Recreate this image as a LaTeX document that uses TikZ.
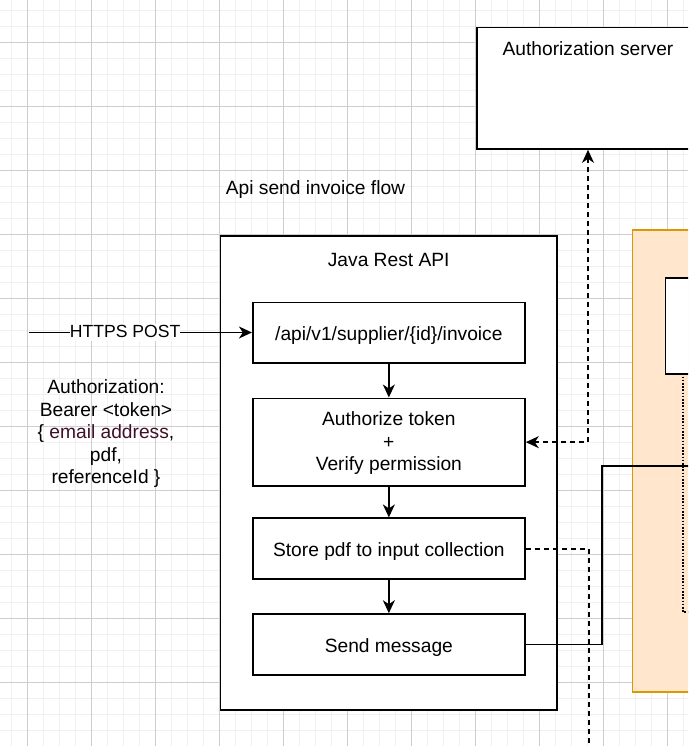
\documentclass[tikz,border=0pt]{standalone}
\usepackage{fontspec}
\setmainfont{Liberation Sans}
\usetikzlibrary{arrows.meta}
\definecolor{gridminor}{RGB}{240,240,240}
\definecolor{gridmajor}{RGB}{205,205,205}
\definecolor{orangefill}{RGB}{255,230,204}
\definecolor{orangeline}{RGB}{215,155,0}
\definecolor{maroon}{RGB}{64,16,40}
\tikzset{
  box/.style={draw=black, line width=1.6pt, fill=white, rectangle, inner sep=0pt, align=center},
  onebox/.style={box, text height=19pt, text depth=4pt},
  txt/.style={inner sep=0pt, align=center},
  flow/.style={line width=1.6pt, -{Stealth[length=13pt,width=12pt,inset=4pt]}},
  dasharrow/.style={line width=1.6pt, dash pattern=on 5pt off 4pt, {Stealth[length=13pt,width=12pt,inset=4pt]}-{Stealth[length=13pt,width=12pt,inset=4pt]}},
  dashline/.style={line width=1.6pt, dash pattern=on 5pt off 4pt},
  dotline/.style={line width=1.6pt, dash pattern=on 1.6pt off 1.6pt},
  plainline/.style={line width=1.6pt}
}
\begin{document}
\begin{tikzpicture}[x=1pt,y=-1pt,font=\fontsize{19.2}{22.5}\selectfont]
\useasboundingbox (0,0) rectangle (688,746);
\clip (0,0) rectangle (688,746);
\fill[white] (0,0) rectangle (688,746);
% grid
\foreach \i in {0,...,42} \draw[gridminor, line width=1.2pt] (11.3+16*\i,0) -- (11.3+16*\i,746);
\foreach \j in {0,...,46} \draw[gridminor, line width=1.2pt] (0,10.3+16*\j) -- (688,10.3+16*\j);
\foreach \i in {0,...,10} \draw[gridmajor, line width=1pt] (27.3+64*\i,0) -- (27.3+64*\i,746);
\foreach \j in {0,...,11} \draw[gridmajor, line width=1pt] (0,42.3+64*\j) -- (688,42.3+64*\j);

% authorization server
\node[box, minimum width=222pt, minimum height=121.7pt] (auth) at (588,88.2) {};
\node[txt] (authT) at (588,49) {Authorization server};

% title
\node[txt] (flowT) at (315.5,189.5) {Api send invoice flow};

% Java Rest API container
\node[box, minimum width=336.7pt, minimum height=474pt] (java) at (388.65,473) {};
\node[txt] (javaT) at (388.7,260) {Java Rest API};

% inner boxes
\node[onebox, minimum width=272.3pt, minimum height=60.4pt] (b1) at (388.85,332.5) {/api/v1/supplier/\{id\}/invoice};
\node[box, minimum width=272.3pt, minimum height=87.7pt] (b2) at (388.85,442.15) {};
\node[txt] (b2T) at (388.85,443.5) {Authorize token\\+\\Verify permission};
\node[onebox, minimum width=272.3pt, minimum height=61pt] (b3) at (388.85,548.7) {Store pdf to input collection};
\node[onebox, minimum width=272.3pt, minimum height=61pt] (b4) at (388.85,644.5) {Send message};

\draw[flow] (b1.south) -- (b2.north);
\draw[flow] (b2.south) -- (b3.north);
\draw[flow] (b3.south) -- (b4.north);

% incoming request
\coordinate (reqStart) at (29,332.5);
\draw[flow] (reqStart) -- node[pos=0.431, fill=white, inner sep=0pt, text height=14pt, text depth=3.5pt, font=\fontsize{17.6}{20}\selectfont] (reqL) {HTTPS POST} (b1.west);
\node[txt] (reqBody) at (106,434) {Authorization:\\Bearer <token>\\\{ \textcolor{maroon}{email address}, \\pdf,\\referenceId \}};

% orange area on the right
\fill[orangefill, draw=orangeline, line width=1.6pt] (632.5,230) rectangle (720,692);
\node[box, minimum width=70pt, minimum height=96pt, anchor=north west] (rbox) at (664.5,277.3) {};
\coordinate (dotTurn) at (683,612);
\coordinate (dotEnd) at (720,612);
\draw[dotline] (683,373.3) -- (dotTurn) -- (dotEnd);

% connectors
\draw[dasharrow] (b2.east) -| (auth.south);
\coordinate (storeTurn) at (588.7,548.7);
\coordinate (storeEnd) at (588.7,760);
\draw[dashline] (b3.east) -- (storeTurn) -- (storeEnd);
\coordinate (sendTurn) at (601.7,465.7);
\coordinate (sendEnd) at (720,465.7);
\draw[plainline] (b4.east) -| (sendTurn) -- (sendEnd);
\end{tikzpicture}
\end{document}
